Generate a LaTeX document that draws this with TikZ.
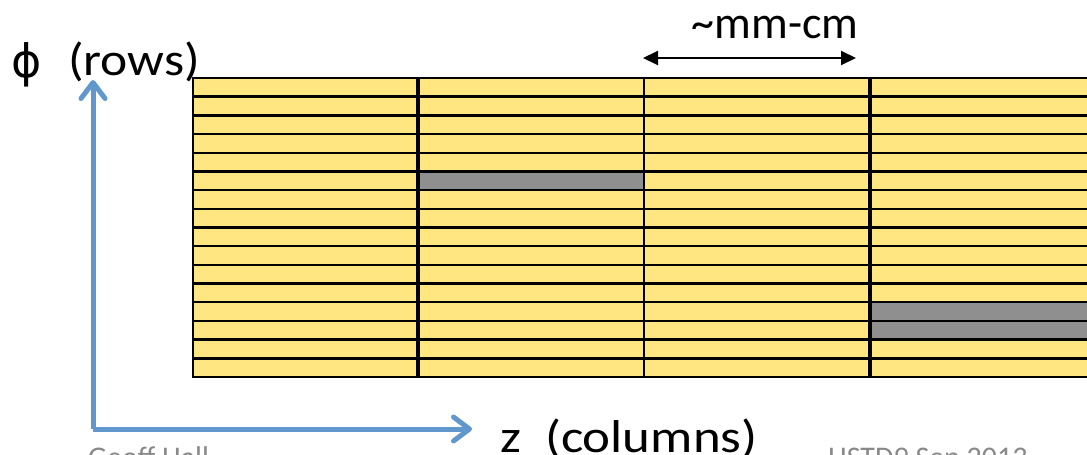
\documentclass[tikz,border=0pt]{standalone}
\usepackage{fontspec}
\setmainfont{Carlito}
\newfontfamily\greekfont{DejaVu Sans}
\usetikzlibrary{arrows.meta}
\definecolor{cellyellow}{RGB}{255,230,128}
\definecolor{cellgray}{RGB}{143,143,143}
\definecolor{axisblue}{RGB}{96,152,206}
\definecolor{footgray}{RGB}{137,137,137}
\tikzset{
  cell/.style={draw=black, line width=2.4pt, fill=cellyellow},
  deadcell/.style={draw=black, line width=2.4pt, fill=cellgray},
  axis/.style={draw=axisblue, line width=5pt,
    -{Straight Barb[length=16pt,width=24pt,round]}},
  bigtext/.style={font=\fontsize{46}{54}\selectfont, anchor=base west, inner sep=0pt},
  foottext/.style={font=\fontsize{30}{36}\selectfont, text=footgray, anchor=base west, inner sep=0pt},
  span/.style={line width=2pt, {Triangle[length=15pt,width=14pt]}-{Triangle[length=15pt,width=14pt]}}
}
\begin{document}
\begin{tikzpicture}[x=1pt,y=-1pt]
\useasboundingbox (0,0) rectangle (1087,455);
\clip (0,0) rectangle (1087,455);
% four columns of 16 strip rows
\def\rowh{18.69}
\foreach \xa/\xb in {193/417, 419/644, 644/869, 871/1110}{
  \foreach \r in {0,...,15}{
    \path[cell] (\xa,78+\r*\rowh) rectangle (\xb,78+\r*\rowh+\rowh);
  }
}
% dead strips
\path[deadcell] (419,78+5*\rowh) rectangle (644,78+6*\rowh);
\path[deadcell] (871,78+12*\rowh) rectangle (1110,78+13*\rowh);
\path[deadcell] (871,78+13*\rowh) rectangle (1110,78+14*\rowh);
% strip length marker
\coordinate (sL) at (643,58);
\coordinate (sR) at (856,58);
\draw[span] (sL) -- (sR);
\node[font=\fontsize{46}{54}\selectfont, anchor=base, inner sep=0pt] (len) at (775,38) {\textasciitilde mm-cm};
% axes
\coordinate (origin) at (93,429);
\coordinate (ytip) at (93,80);
\coordinate (xtip) at (472,429);
\draw[axis] (origin) -- (ytip);
\draw[axis] (origin) -- (xtip);
\node[bigtext] (phi) at (11,77) {{\greekfont\fontsize{46}{54}\selectfont ϕ}};
\node[bigtext] (rows) at (68,75) {\scalebox{1.12}[1]{(rows)}};
\node[bigtext] (zlab) at (500,452) {\scalebox{1.15}[1]{z\ \ (columns)}};
% footer
\node[foottext] (author) at (88,467) {Geoff Hall};
\node[foottext] (conf) at (828,467) {HSTD9 Sep 2013};
\end{tikzpicture}
\end{document}
